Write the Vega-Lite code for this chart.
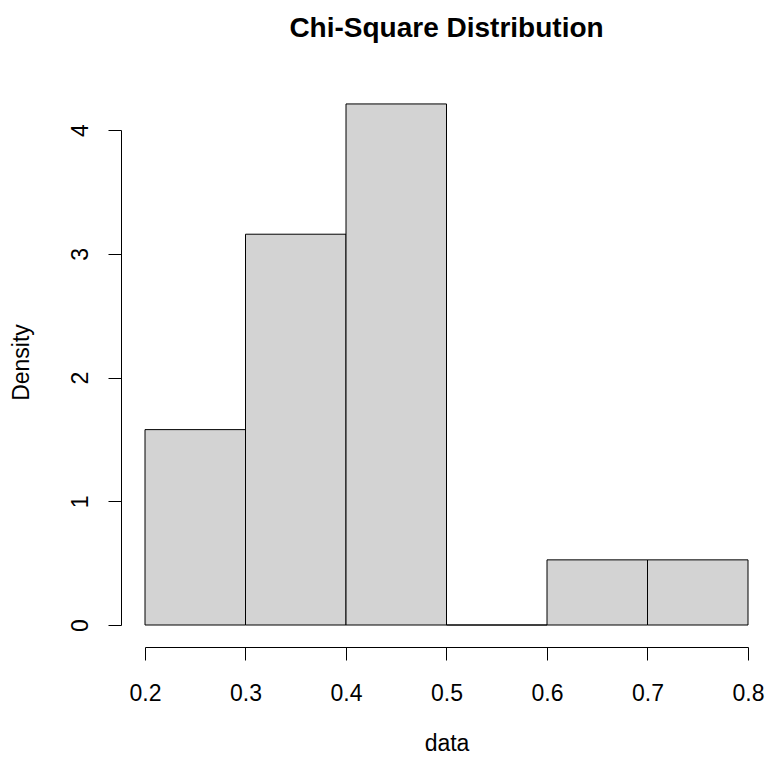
{
  "$schema": "https://vega.github.io/schema/vega-lite/v6.json",
  "width": 603,
  "height": 495,
  "autosize": {"type": "none"},
  "padding": {"left": 145, "top": 130, "right": 18, "bottom": 135},
  "background": "white",
  "title": {
    "text": "Chi-Square Distribution",
    "font": "Liberation Sans",
    "fontSize": 28,
    "fontWeight": "bold",
    "color": "black",
    "anchor": "middle",
    "offset": 60
  },
  "config": {
    "view": {"stroke": null},
    "font": "Liberation Sans"
  },
  "data": {
    "values": [
      {"bin_start": 0.2, "bin_end": 0.3, "density": 1.5789},
      {"bin_start": 0.3, "bin_end": 0.4, "density": 3.1579},
      {"bin_start": 0.4, "bin_end": 0.5, "density": 4.2105},
      {"bin_start": 0.5, "bin_end": 0.6, "density": 0},
      {"bin_start": 0.6, "bin_end": 0.7, "density": 0.5263},
      {"bin_start": 0.7, "bin_end": 0.8, "density": 0.5263}
    ]
  },
  "mark": {"type": "bar", "fill": "#D3D3D3", "stroke": "black", "strokeWidth": 1, "binSpacing": 0},
  "encoding": {
    "x": {
      "field": "bin_start",
      "type": "quantitative",
      "scale": {"domain": [0.2, 0.8], "nice": false, "zero": false},
      "axis": {
        "title": "data",
        "values": [0.2, 0.3, 0.4, 0.5, 0.6, 0.7, 0.8],
        "format": ".1f",
        "offset": 22,
        "grid": false,
        "domainColor": "black",
        "domainWidth": 1,
        "tickColor": "black",
        "tickSize": 13,
        "tickWidth": 1,
        "labelFontSize": 23,
        "labelColor": "black",
        "labelFlush": false,
        "labelOverlap": false,
        "labelBaseline": "top",
        "labelPadding": 22,
        "labelFont": "Liberation Sans",
        "titleFontSize": 23,
        "titleFontWeight": "normal",
        "titleColor": "black",
        "titleFont": "Liberation Sans",
        "titlePadding": 27
      }
    },
    "x2": {"field": "bin_end"},
    "y": {
      "field": "density",
      "type": "quantitative",
      "scale": {"domain": [0, 4], "nice": false, "zero": true},
      "axis": {
        "title": "Density",
        "values": [0, 1, 2, 3, 4],
        "offset": 24,
        "grid": false,
        "domainColor": "black",
        "domainWidth": 1,
        "tickColor": "black",
        "tickSize": 13,
        "tickWidth": 1,
        "labelFontSize": 23,
        "labelColor": "black",
        "labelAngle": -90,
        "labelAlign": "center",
        "labelBaseline": "alphabetic",
        "labelFlush": false,
        "labelOverlap": false,
        "labelPadding": 21,
        "labelFont": "Liberation Sans",
        "titleFontSize": 23,
        "titleFontWeight": "normal",
        "titleColor": "black",
        "titleFont": "Liberation Sans",
        "titlePadding": 36,
        "titleY": 232
      }
    },
    "y2": {"datum": 0}
  }
}
